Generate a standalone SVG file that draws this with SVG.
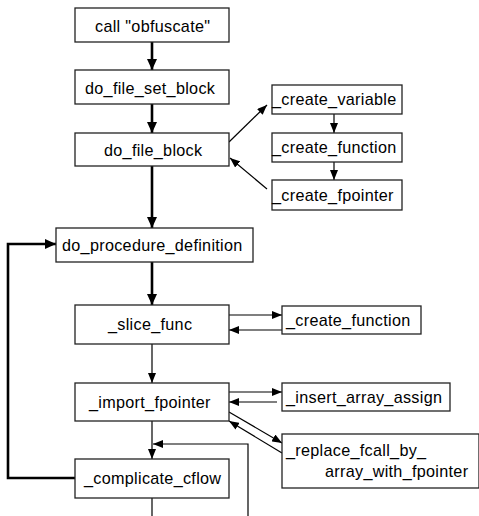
<svg xmlns="http://www.w3.org/2000/svg" width="479" height="516" viewBox="0 0 479 516">
<style>
.box{fill:#fff;stroke:#222;stroke-width:1.3}
.t{font-family:"Liberation Sans",Arial,sans-serif;font-size:16.2px;letter-spacing:0.3px;fill:#000}
.thick{fill:none;stroke:#000;stroke-width:2.6}
.thin{fill:none;stroke:#000;stroke-width:1.2}
</style>
<defs>
<marker id="ah" markerUnits="userSpaceOnUse" markerWidth="12" markerHeight="10" refX="11" refY="5" orient="auto"><path d="M0,0 L11,5 L0,10 z" fill="#000"/></marker>
<marker id="as" markerUnits="userSpaceOnUse" markerWidth="11" markerHeight="8" refX="10" refY="4" orient="auto"><path d="M0,0 L10,4 L0,8 z" fill="#000"/></marker>
</defs>
<rect width="479" height="516" fill="#fff"/>
<g id="connectors">
<line class="thick" x1="152" y1="42" x2="152" y2="70" marker-end="url(#ah)"/>
<line class="thick" x1="152" y1="104" x2="152" y2="133" marker-end="url(#ah)"/>
<line class="thin" x1="229" y1="142" x2="267" y2="105" marker-end="url(#as)"/>
<line class="thin" x1="267" y1="189" x2="230" y2="158" marker-end="url(#as)"/>
<line class="thin" x1="334" y1="114" x2="334" y2="133" marker-end="url(#as)"/>
<line class="thin" x1="334" y1="162" x2="334" y2="180" marker-end="url(#as)"/>
<line class="thick" x1="152" y1="166" x2="152" y2="228" marker-end="url(#ah)"/>
<line class="thick" x1="152" y1="262" x2="152" y2="305" marker-end="url(#ah)"/>
<line class="thin" x1="229" y1="315" x2="282" y2="315" marker-end="url(#as)"/>
<line class="thin" x1="282" y1="330" x2="229" y2="330" marker-end="url(#as)"/>
<line class="thin" x1="152" y1="344" x2="152" y2="383" marker-end="url(#as)"/>
<line class="thin" x1="229" y1="392" x2="282" y2="392" marker-end="url(#as)"/>
<line class="thin" x1="277" y1="402" x2="229" y2="402" marker-end="url(#as)"/>
<line class="thin" x1="229" y1="412" x2="282" y2="443" marker-end="url(#as)"/>
<line class="thin" x1="282" y1="453" x2="229" y2="421" marker-end="url(#as)"/>
<line class="thin" x1="152" y1="421" x2="152" y2="459" marker-end="url(#as)"/>
<polyline class="thin" points="248,516 248,444 153,444" marker-end="url(#as)"/>
<line class="thin" x1="152" y1="498" x2="152" y2="516"/>
<polyline class="thick" points="75,478 8,478 8,244 56,244" marker-end="url(#ah)"/>
</g>
<g id="n_call"><rect class="box" x="75" y="8" width="154" height="34"/><text class="t" x="95" y="32">call "obfuscate"</text></g>
<g id="n_do_file_set_block"><rect class="box" x="75" y="70" width="154" height="34"/><text class="t" x="85" y="94">do_file_set_block</text></g>
<g id="n_do_file_block"><rect class="box" x="75" y="133" width="154" height="33"/><text class="t" x="104" y="156">do_file_block</text></g>
<g id="n_create_variable"><rect class="box" x="272" y="85" width="130" height="29"/><text class="t" x="272" y="105">_create_variable</text></g>
<g id="n_create_function1"><rect class="box" x="272" y="133" width="130" height="29"/><text class="t" x="272" y="153">_create_function</text></g>
<g id="n_create_fpointer"><rect class="box" x="272" y="180" width="130" height="30"/><text class="t" x="272" y="201">_create_fpointer</text></g>
<g id="n_do_procedure_definition"><rect class="box" x="56" y="228" width="197" height="34"/><text class="t" x="62" y="251">do_procedure_definition</text></g>
<g id="n_slice_func"><rect class="box" x="75" y="305" width="154" height="39"/><text class="t" x="108" y="330">_slice_func</text></g>
<g id="n_create_function2"><rect class="box" x="282" y="306" width="139" height="28"/><text class="t" x="286" y="326">_create_function</text></g>
<g id="n_import_fpointer"><rect class="box" x="75" y="383" width="154" height="38"/><text class="t" x="89" y="408">_import_fpointer</text></g>
<g id="n_insert_array_assign"><rect class="box" x="282" y="383" width="168" height="28"/><text class="t" x="286" y="403">_insert_array_assign</text></g>
<g id="n_replace_fcall"><rect class="box" x="282" y="434" width="197" height="54"/><text class="t" x="286" y="456">_replace_fcall_by_</text><text class="t" x="325" y="477">array_with_fpointer</text></g>
<g id="n_complicate_cflow"><rect class="box" x="75" y="459" width="154" height="39"/><text class="t" x="84" y="484">_complicate_cflow</text></g>
</svg>
